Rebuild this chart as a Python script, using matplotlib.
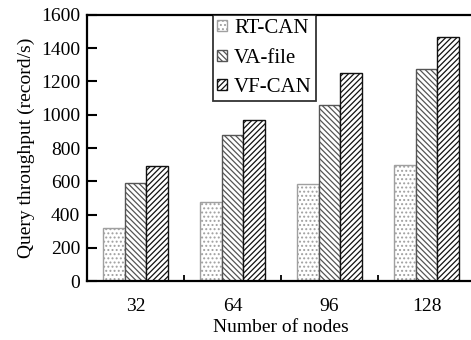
import numpy as np
import matplotlib
matplotlib.use('Agg')
import matplotlib.pyplot as plt
from matplotlib.ticker import FixedLocator

plt.rcParams['font.family'] = ['Liberation Serif', 'DejaVu Serif']
plt.rcParams['hatch.linewidth'] = 0.9

nodes = ['32', '64', '96', '128']
rt_can = [320, 473, 582, 698]
va_file = [587, 878, 1059, 1273]
vf_can = [692, 968, 1253, 1470]

fig = plt.figure(figsize=(4.71, 3.40), dpi=100)
ax = fig.add_axes([0.1847, 0.1735, 0.8238, 0.7824])

x = np.arange(len(nodes))
w = 0.224
ax.bar(x - w, rt_can, w, color='white', edgecolor='#a0a0a0', hatch='....', linewidth=1.0, label='RT-CAN')
ax.bar(x, va_file, w, color='white', edgecolor='#555555', hatch='\\\\\\\\\\\\', linewidth=1.0, label='VA-file')
ax.bar(x + w, vf_can, w, color='white', edgecolor='#111111', hatch='//////', linewidth=1.0, label='VF-CAN')

ax.set_xlim(-0.5, 3.5)
ax.set_ylim(0, 1600)
ax.set_xticks(x)
ax.set_xticklabels(nodes)
ax.xaxis.set_minor_locator(FixedLocator([0.5, 1.5, 2.5]))
ax.set_yticks(np.arange(0, 1601, 200))

ax.tick_params(axis='x', which='major', length=0, pad=12, labelsize=14)
ax.tick_params(axis='x', which='minor', direction='in', length=4, width=1.3)
ax.tick_params(axis='y', direction='in', length=7, width=1.5, pad=5, labelsize=14)
for s in ax.spines.values():
    s.set_linewidth(1.6)

ax.set_xlabel('Number of nodes', fontsize=14, labelpad=3)
ax.set_ylabel('Query throughput (record/s)', fontsize=14, labelpad=4)

leg = ax.legend(loc='upper left', bbox_to_anchor=(0.325, 1.0), borderaxespad=0,
                fontsize=15, handlelength=0.45, handleheight=0.45, handletextpad=0.35,
                labelspacing=0.5, borderpad=0.2, fancybox=False, frameon=True)
leg.get_frame().set_edgecolor('black')
leg.get_frame().set_linewidth(1.3)

fig.savefig('out.png', dpi=100)
